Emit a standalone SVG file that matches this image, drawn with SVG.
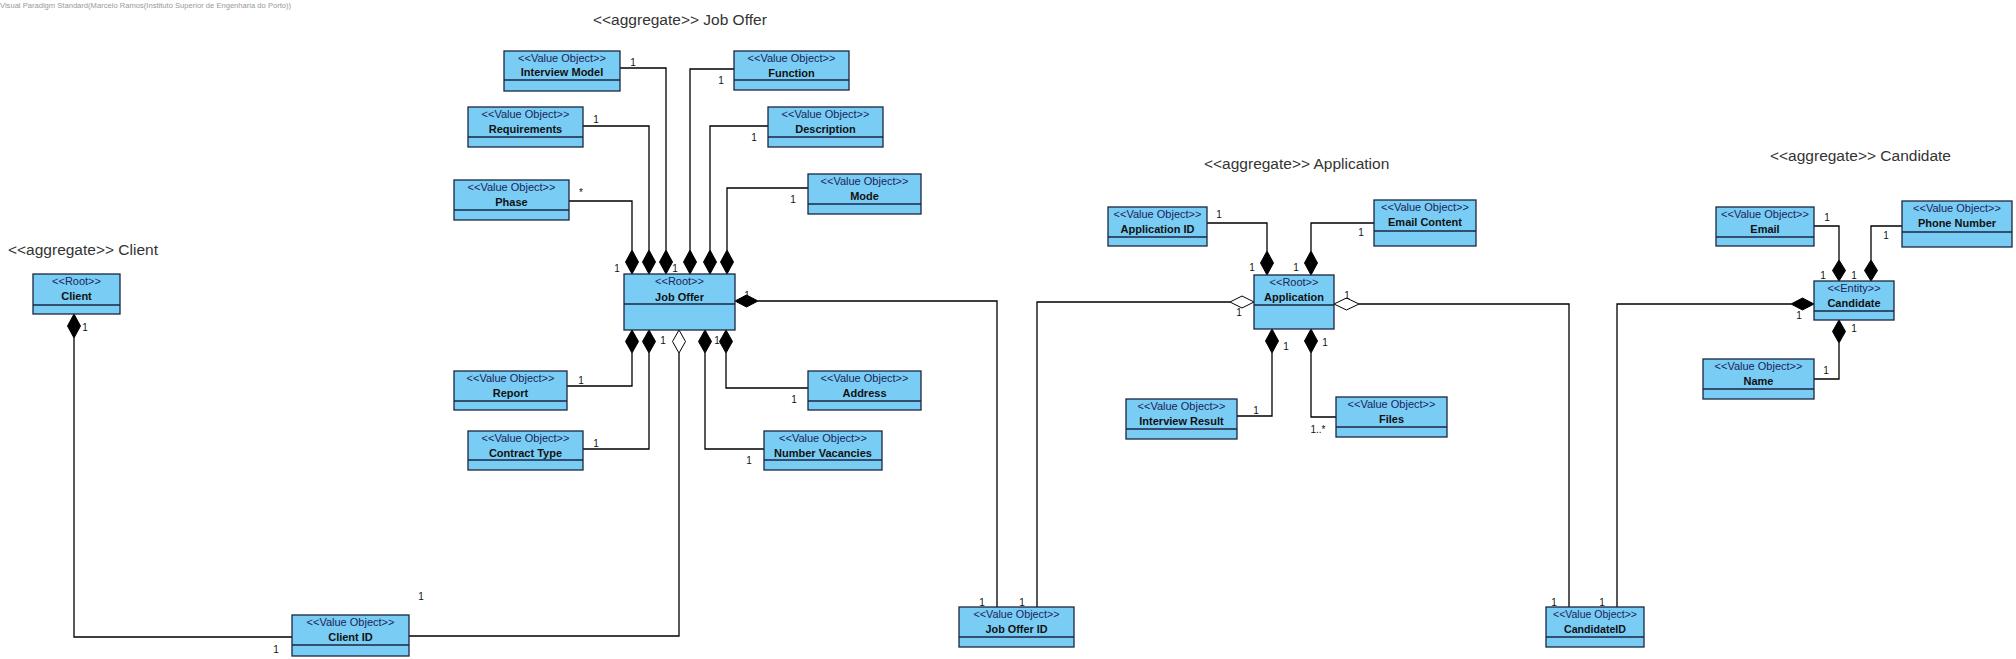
<svg xmlns="http://www.w3.org/2000/svg" width="2016" height="659" viewBox="0 0 2016 659">
<style>
.box{fill:#79CDF5;stroke:#1b2540;stroke-width:1.3}
.div{stroke:#1b2540;stroke-width:1.3}
.st{font-family:"Liberation Sans",Arial,sans-serif;font-size:11px;fill:#1c2458;text-anchor:middle}
.nm{font-family:"Liberation Sans",Arial,sans-serif;font-size:11px;font-weight:bold;fill:#111;text-anchor:middle}
.ttl{font-family:"Liberation Sans",Arial,sans-serif;font-size:15.5px;fill:#333}
.lb{font-family:"Liberation Sans",Arial,sans-serif;font-size:10px;fill:#111;text-anchor:middle}
.ln{fill:none;stroke:#000;stroke-width:1.3}
.fd{fill:#000;stroke:#000;stroke-width:1}
.hd{fill:#fff;stroke:#000;stroke-width:1}
.hdr{font-family:"Liberation Sans",Arial,sans-serif;font-size:7.6px;fill:#999}
</style>
<rect width="2016" height="659" fill="#fff"/>
<text class="hdr" x="0" y="8">Visual Paradigm Standard(Marcelo Ramos(Instituto Superior de Engenharia do Porto))</text>
<g id="titles">
<text class="ttl" x="8" y="255">&lt;&lt;aggregate&gt;&gt; Client</text>
<text class="ttl" x="593" y="25">&lt;&lt;aggregate&gt;&gt; Job Offer</text>
<text class="ttl" x="1204" y="169">&lt;&lt;aggregate&gt;&gt; Application</text>
<text class="ttl" x="1770" y="161">&lt;&lt;aggregate&gt;&gt; Candidate</text>
</g>
<g id="connectors">
<path class="ln" d="M620,68 H666 V250"/>
<path class="ln" d="M583,126 H649 V250"/>
<path class="ln" d="M569,201 H632 V250"/>
<path class="ln" d="M734,69 H690 V250"/>
<path class="ln" d="M768,126 H710 V250"/>
<path class="ln" d="M808,188 H727 V250"/>
<path class="ln" d="M567,386 H632 V353"/>
<path class="ln" d="M583,449 H649 V353"/>
<path class="ln" d="M808,388 H726 V353"/>
<path class="ln" d="M764,449 H705 V353"/>
<path class="ln" d="M679,353 V636 H409"/>
<path class="ln" d="M758,301 H997 V607"/>
<path class="ln" d="M74,338 V637 H292"/>
<path class="ln" d="M1230,302 H1037 V607"/>
<path class="ln" d="M1359,304 H1569 V607"/>
<path class="ln" d="M1791,304 H1617 V607"/>
<path class="ln" d="M1207,223 H1267 V251"/>
<path class="ln" d="M1374,223 H1311 V251"/>
<path class="ln" d="M1237,416 H1272 V353"/>
<path class="ln" d="M1336,417 H1311 V353"/>
<path class="ln" d="M1814,226 H1839 V260"/>
<path class="ln" d="M1902,226 H1871 V260"/>
<path class="ln" d="M1814,379 H1839 V343"/>
<!-- diamonds -->
<path class="fd" d="M632,250 l6.5,12 l-6.5,12 l-6.5,-12 z"/>
<path class="fd" d="M649,250 l6.5,12 l-6.5,12 l-6.5,-12 z"/>
<path class="fd" d="M666,250 l6.5,12 l-6.5,12 l-6.5,-12 z"/>
<path class="fd" d="M690,250 l6.5,12 l-6.5,12 l-6.5,-12 z"/>
<path class="fd" d="M710,250 l6.5,12 l-6.5,12 l-6.5,-12 z"/>
<path class="fd" d="M727,250 l6.5,12 l-6.5,12 l-6.5,-12 z"/>
<path class="fd" d="M632,330 l6.5,11.5 l-6.5,11.5 l-6.5,-11.5 z"/>
<path class="fd" d="M649,330 l6.5,11.5 l-6.5,11.5 l-6.5,-11.5 z"/>
<path class="hd" d="M679,330 l6.5,11.5 l-6.5,11.5 l-6.5,-11.5 z"/>
<path class="fd" d="M705,330 l6.5,11.5 l-6.5,11.5 l-6.5,-11.5 z"/>
<path class="fd" d="M726,330 l6.5,11.5 l-6.5,11.5 l-6.5,-11.5 z"/>
<path class="fd" d="M735,301 l11.5,-6 l11.5,6 l-11.5,6 z"/>
<path class="fd" d="M74,314 l6.5,12 l-6.5,12 l-6.5,-12 z"/>
<path class="fd" d="M1267,251 l6.5,12 l-6.5,12 l-6.5,-12 z"/>
<path class="fd" d="M1311,251 l6.5,12 l-6.5,12 l-6.5,-12 z"/>
<path class="hd" d="M1254,302 l-12,-6 l-12,6 l12,6 z"/>
<path class="hd" d="M1334,304 l12.5,-6 l12.5,6 l-12.5,6 z"/>
<path class="fd" d="M1272,329 l6.5,12 l-6.5,12 l-6.5,-12 z"/>
<path class="fd" d="M1311,329 l6.5,12 l-6.5,12 l-6.5,-12 z"/>
<path class="fd" d="M1839,260 l6.5,10.5 l-6.5,10.5 l-6.5,-10.5 z"/>
<path class="fd" d="M1871,260 l6.5,10.5 l-6.5,10.5 l-6.5,-10.5 z"/>
<path class="fd" d="M1814,304 l-11.5,-6 l-11.5,6 l11.5,6 z"/>
<path class="fd" d="M1839,320 l6.5,11.5 l-6.5,11.5 l-6.5,-11.5 z"/>
<!-- multiplicities -->
<text class="lb" x="633" y="66">1</text>
<text class="lb" x="596" y="123">1</text>
<text class="lb" x="581" y="196">*</text>
<text class="lb" x="721" y="84">1</text>
<text class="lb" x="754" y="141">1</text>
<text class="lb" x="793" y="203">1</text>
<text class="lb" x="617" y="272">1</text>
<text class="lb" x="675" y="272">1</text>
<text class="lb" x="747" y="299">1</text>
<text class="lb" x="663" y="344">1</text>
<text class="lb" x="717" y="344">1</text>
<text class="lb" x="581" y="384">1</text>
<text class="lb" x="596" y="447">1</text>
<text class="lb" x="794" y="403">1</text>
<text class="lb" x="749" y="464">1</text>
<text class="lb" x="421" y="600">1</text>
<text class="lb" x="276" y="653">1</text>
<text class="lb" x="85" y="331">1</text>
<text class="lb" x="982" y="606">1</text>
<text class="lb" x="1022" y="606">1</text>
<text class="lb" x="1219" y="218">1</text>
<text class="lb" x="1361" y="236">1</text>
<text class="lb" x="1252" y="271">1</text>
<text class="lb" x="1296" y="271">1</text>
<text class="lb" x="1239" y="316">1</text>
<text class="lb" x="1347" y="299">1</text>
<text class="lb" x="1286" y="350">1</text>
<text class="lb" x="1325" y="346">1</text>
<text class="lb" x="1256" y="414">1</text>
<text class="lb" x="1318" y="433">1..*</text>
<text class="lb" x="1827" y="221">1</text>
<text class="lb" x="1886" y="239">1</text>
<text class="lb" x="1823" y="279">1</text>
<text class="lb" x="1854" y="279">1</text>
<text class="lb" x="1799" y="319">1</text>
<text class="lb" x="1854" y="332">1</text>
<text class="lb" x="1826" y="374">1</text>
<text class="lb" x="1554" y="606">1</text>
<text class="lb" x="1602" y="606">1</text>
</g>
<g id="client"><rect class="box" x="33" y="274" width="87" height="40"/><line class="div" x1="33" y1="305" x2="120" y2="305"/><text class="st" x="76.5" y="285">&lt;&lt;Root&gt;&gt;</text><text class="nm" x="76.5" y="300">Client</text></g>
<g id="interview-model"><rect class="box" x="504" y="51" width="116" height="40"/><line class="div" x1="504" y1="80" x2="620" y2="80"/><text class="st" x="562" y="62">&lt;&lt;Value Object&gt;&gt;</text><text class="nm" x="562" y="76">Interview Model</text></g>
<g id="function"><rect class="box" x="734" y="51" width="115" height="39"/><line class="div" x1="734" y1="80" x2="849" y2="80"/><text class="st" x="791.5" y="62">&lt;&lt;Value Object&gt;&gt;</text><text class="nm" x="791.5" y="77">Function</text></g>
<g id="requirements"><rect class="box" x="468" y="107" width="115" height="40"/><line class="div" x1="468" y1="137" x2="583" y2="137"/><text class="st" x="525.5" y="118">&lt;&lt;Value Object&gt;&gt;</text><text class="nm" x="525.5" y="133">Requirements</text></g>
<g id="description"><rect class="box" x="768" y="107" width="115" height="40"/><line class="div" x1="768" y1="137" x2="883" y2="137"/><text class="st" x="825.5" y="118">&lt;&lt;Value Object&gt;&gt;</text><text class="nm" x="825.5" y="133">Description</text></g>
<g id="phase"><rect class="box" x="454" y="180" width="115" height="40"/><line class="div" x1="454" y1="210" x2="569" y2="210"/><text class="st" x="511.5" y="191">&lt;&lt;Value Object&gt;&gt;</text><text class="nm" x="511.5" y="206">Phase</text></g>
<g id="mode"><rect class="box" x="808" y="174" width="113" height="40"/><line class="div" x1="808" y1="204" x2="921" y2="204"/><text class="st" x="864.5" y="185">&lt;&lt;Value Object&gt;&gt;</text><text class="nm" x="864.5" y="200">Mode</text></g>
<g id="job-offer"><rect class="box" x="624" y="274" width="111" height="56"/><line class="div" x1="624" y1="304" x2="735" y2="304"/><text class="st" x="679.5" y="285">&lt;&lt;Root&gt;&gt;</text><text class="nm" x="679.5" y="301">Job Offer</text></g>
<g id="report"><rect class="box" x="454" y="371" width="113" height="39"/><line class="div" x1="454" y1="401" x2="567" y2="401"/><text class="st" x="510.5" y="382">&lt;&lt;Value Object&gt;&gt;</text><text class="nm" x="510.5" y="397">Report</text></g>
<g id="contract-type"><rect class="box" x="468" y="431" width="115" height="39"/><line class="div" x1="468" y1="460" x2="583" y2="460"/><text class="st" x="525.5" y="442">&lt;&lt;Value Object&gt;&gt;</text><text class="nm" x="525.5" y="457">Contract Type</text></g>
<g id="address"><rect class="box" x="808" y="371" width="113" height="39"/><line class="div" x1="808" y1="401" x2="921" y2="401"/><text class="st" x="864.5" y="382">&lt;&lt;Value Object&gt;&gt;</text><text class="nm" x="864.5" y="397">Address</text></g>
<g id="number-vacancies"><rect class="box" x="764" y="431" width="118" height="39"/><line class="div" x1="764" y1="460" x2="882" y2="460"/><text class="st" x="823" y="442">&lt;&lt;Value Object&gt;&gt;</text><text class="nm" x="823" y="457">Number Vacancies</text></g>
<g id="client-id"><rect class="box" x="292" y="615" width="117" height="41"/><line class="div" x1="292" y1="645" x2="409" y2="645"/><text class="st" x="350.5" y="626">&lt;&lt;Value Object&gt;&gt;</text><text class="nm" x="350.5" y="641">Client ID</text></g>
<g id="job-offer-id"><rect class="box" x="959" y="607" width="115" height="40"/><line class="div" x1="959" y1="637" x2="1074" y2="637"/><text class="st" x="1016.5" y="618" textLength="86" lengthAdjust="spacingAndGlyphs">&lt;&lt;Value Object&gt;&gt;</text><text class="nm" x="1016.5" y="633" textLength="62" lengthAdjust="spacingAndGlyphs">Job Offer ID</text></g>
<g id="application-id"><rect class="box" x="1108" y="207" width="99" height="39"/><line class="div" x1="1108" y1="237" x2="1207" y2="237"/><text class="st" x="1157.5" y="218">&lt;&lt;Value Object&gt;&gt;</text><text class="nm" x="1157.5" y="233">Application ID</text></g>
<g id="email-content"><rect class="box" x="1374" y="200" width="102" height="46"/><line class="div" x1="1374" y1="231" x2="1476" y2="231"/><text class="st" x="1425" y="211">&lt;&lt;Value Object&gt;&gt;</text><text class="nm" x="1425" y="226">Email Content</text></g>
<g id="application"><rect class="box" x="1254" y="275" width="80" height="54"/><line class="div" x1="1254" y1="305" x2="1334" y2="305"/><text class="st" x="1294" y="286">&lt;&lt;Root&gt;&gt;</text><text class="nm" x="1294" y="301">Application</text></g>
<g id="interview-result"><rect class="box" x="1126" y="399" width="111" height="40"/><line class="div" x1="1126" y1="429" x2="1237" y2="429"/><text class="st" x="1181.5" y="410">&lt;&lt;Value Object&gt;&gt;</text><text class="nm" x="1181.5" y="425">Interview Result</text></g>
<g id="files"><rect class="box" x="1336" y="397" width="111" height="40"/><line class="div" x1="1336" y1="427" x2="1447" y2="427"/><text class="st" x="1391.5" y="408">&lt;&lt;Value Object&gt;&gt;</text><text class="nm" x="1391.5" y="423">Files</text></g>
<g id="email"><rect class="box" x="1716" y="207" width="98" height="39"/><line class="div" x1="1716" y1="237" x2="1814" y2="237"/><text class="st" x="1765" y="218">&lt;&lt;Value Object&gt;&gt;</text><text class="nm" x="1765" y="233">Email</text></g>
<g id="phone-number"><rect class="box" x="1902" y="201" width="110" height="46"/><line class="div" x1="1902" y1="232" x2="2012" y2="232"/><text class="st" x="1957" y="212">&lt;&lt;Value Object&gt;&gt;</text><text class="nm" x="1957" y="227">Phone Number</text></g>
<g id="candidate"><rect class="box" x="1814" y="281" width="80" height="39"/><line class="div" x1="1814" y1="311" x2="1894" y2="311"/><text class="st" x="1854" y="292">&lt;&lt;Entity&gt;&gt;</text><text class="nm" x="1854" y="307">Candidate</text></g>
<g id="name"><rect class="box" x="1703" y="359" width="111" height="40"/><line class="div" x1="1703" y1="389" x2="1814" y2="389"/><text class="st" x="1758.5" y="370">&lt;&lt;Value Object&gt;&gt;</text><text class="nm" x="1758.5" y="385">Name</text></g>
<g id="candidate-id"><rect class="box" x="1546" y="607" width="98" height="40"/><line class="div" x1="1546" y1="637" x2="1644" y2="637"/><text class="st" x="1595" y="618" textLength="84" lengthAdjust="spacingAndGlyphs">&lt;&lt;Value Object&gt;&gt;</text><text class="nm" x="1595" y="633" textLength="62" lengthAdjust="spacingAndGlyphs">CandidateID</text></g>
</svg>
